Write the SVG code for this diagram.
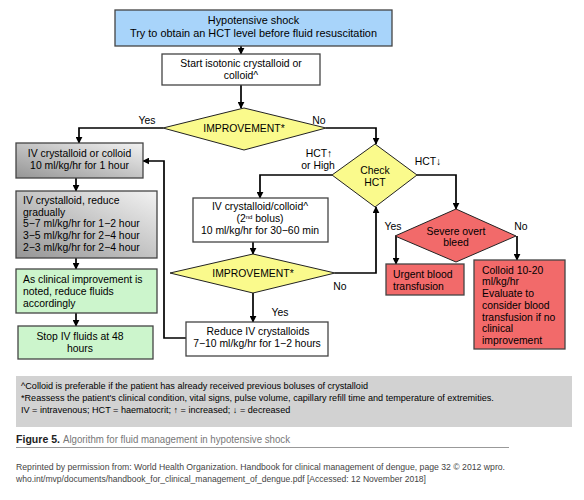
<svg xmlns="http://www.w3.org/2000/svg" width="584" height="500" viewBox="0 0 584 500">
<defs>
<linearGradient id="gray" x1="1" y1="0" x2="0" y2="1">
<stop offset="0" stop-color="#f2f2f2"/>
<stop offset="1" stop-color="#959595"/>
</linearGradient>
<marker id="ah" viewBox="0 0 10 10" refX="9" refY="5" markerWidth="7" markerHeight="7" markerUnits="userSpaceOnUse" orient="auto">
<path d="M0,0 L10,5 L0,10 z" fill="#000"/>
</marker>
</defs>
<style>
text{font-family:"Liberation Sans",Arial,sans-serif;font-size:10.4px;fill:#000}
.c{text-anchor:middle}
.box{stroke:#444;stroke-width:1.3}
.dia{stroke:#222;stroke-width:1}
.y{fill:#fafa8c}
.r{fill:#f26a6a}
.g{fill:#ccf5cc}
.w{fill:#fff}
.ln{fill:none;stroke:#000;stroke-width:1.7}
.fn{font-size:9.1px}
.cap{font-size:11.5px;fill:#777}
.capb{font-size:11.5px;fill:#222;font-weight:bold}
.ref{font-size:9px;fill:#444}
</style>
<rect width="584" height="500" fill="#fff"/>

<g id="connectors">
<path class="ln" d="M241,46 V54" marker-end="url(#ah)"/>
<path class="ln" d="M241,85 V108" marker-end="url(#ah)"/>
<path class="ln" d="M163,128 H79 V143" marker-end="url(#ah)"/>
<path class="ln" d="M326,128 H376 V144" marker-end="url(#ah)"/>
<path class="ln" d="M76,178 V191" marker-end="url(#ah)"/>
<path class="ln" d="M76,258 V269" marker-end="url(#ah)"/>
<path class="ln" d="M76,313 V326" marker-end="url(#ah)"/>
<path class="ln" d="M332,175 H260 V198" marker-end="url(#ah)"/>
<path class="ln" d="M417,175 H456 V209" marker-end="url(#ah)"/>
<path class="ln" d="M253,242 V254" marker-end="url(#ah)"/>
<path class="ln" d="M253,293 V322" marker-end="url(#ah)"/>
<path class="ln" d="M335,273 H376 V207" marker-end="url(#ah)"/>
<path class="ln" d="M186,338 H164 V161 H143" marker-end="url(#ah)"/>
<path class="ln" d="M396,236 V264" marker-end="url(#ah)"/>
<path class="ln" d="M517,236 V260" marker-end="url(#ah)"/>
</g>

<g id="labels">
<text x="147" y="124" class="c">Yes</text>
<text x="319" y="124" class="c">No</text>
<text x="319" y="157" class="c">HCT↑</text>
<text x="318" y="169" class="c">or High</text>
<text x="428" y="165" class="c">HCT↓</text>
<text x="280" y="316" class="c">Yes</text>
<text x="340" y="290" class="c">No</text>
<text x="393" y="230" class="c">Yes</text>
<text x="521" y="230" class="c">No</text>
</g>

<g id="n-shock">
<rect x="115" y="10" width="277" height="36" fill="#a8d4fa" class="box"/>
<text x="253.5" y="24" class="c" style="font-size:10.9px">Hypotensive shock</text>
<text x="253.5" y="37" class="c" style="font-size:10.9px">Try to obtain an HCT level before fluid resuscitation</text>
</g>

<g id="n-start">
<rect x="162" y="54" width="158" height="31" class="box w"/>
<text x="241" y="67" class="c">Start isotonic crystalloid or</text>
<text x="241" y="79" class="c">colloid^</text>
</g>

<g id="n-improve1">
<polygon points="244,108 326,128 244,150 163,128" class="dia y"/>
<text x="244" y="132" class="c">IMPROVEMENT*</text>
</g>

<g id="n-iv1">
<rect x="16" y="143" width="127" height="35" fill="url(#gray)" class="box"/>
<text x="79.5" y="157" class="c">IV crystalloid or colloid</text>
<text x="79.5" y="169" class="c">10 ml/kg/hr for 1 hour</text>
</g>

<g id="n-iv2">
<rect x="16" y="191" width="141" height="67" fill="url(#gray)" class="box"/>
<text x="23" y="204">IV crystalloid, reduce</text>
<text x="23" y="216">gradually</text>
<text x="23" y="227">5−7 ml/kg/hr for 1−2 hour</text>
<text x="23" y="239">3−5 ml/kg/hr for 2−4 hour</text>
<text x="23" y="251">2−3 ml/kg/hr for 2−4 hour</text>
</g>

<g id="n-clinical">
<rect x="16" y="269" width="141" height="44" class="box g"/>
<text x="23" y="283">As clinical improvement is</text>
<text x="23" y="295">noted, reduce fluids</text>
<text x="23" y="307">accordingly</text>
</g>

<g id="n-stop">
<rect x="18" y="326" width="135" height="33" class="box g"/>
<text x="80" y="340" class="c">Stop IV fluids at 48</text>
<text x="80" y="352" class="c">hours</text>
</g>

<g id="n-checkhct">
<polygon points="375,144 417,175 375,207 332,175" class="dia y"/>
<text x="375" y="174" class="c">Check</text>
<text x="375" y="186" class="c">HCT</text>
</g>

<g id="n-bolus2">
<rect x="193" y="198" width="135" height="44" class="box w"/>
<text x="260" y="210" class="c">IV crystalloid/colloid^</text>
<text x="260" y="222" class="c">(2<tspan dy="-3" style="font-size:6px">nd</tspan><tspan dy="3"> bolus)</tspan></text>
<text x="260" y="234" class="c">10 ml/kg/hr for 30−60 min</text>
</g>

<g id="n-improve2">
<polygon points="253,254 335,273 253,293 170,273" class="dia y"/>
<text x="253" y="277" class="c">IMPROVEMENT*</text>
</g>

<g id="n-reduce">
<rect x="186" y="322" width="142" height="34" class="box w"/>
<text x="258" y="335" class="c">Reduce IV crystalloids</text>
<text x="257" y="347" class="c">7−10 ml/kg/hr for 1−2 hours</text>
</g>

<g id="n-bleed">
<polygon points="456,209 516,236 456,262 395,236" class="dia r"/>
<text x="456" y="235" class="c">Severe overt</text>
<text x="456" y="246" class="c">bleed</text>
</g>

<g id="n-urgent">
<rect x="386" y="264" width="78" height="31" class="box r"/>
<text x="393" y="278">Urgent blood</text>
<text x="393" y="290">transfusion</text>
</g>

<g id="n-colloid">
<rect x="474" y="260" width="91" height="89" class="box r"/>
<text x="482" y="274">Colloid 10-20</text>
<text x="482" y="285">ml/kg/hr</text>
<text x="482" y="297">Evaluate to</text>
<text x="482" y="309">consider blood</text>
<text x="482" y="321">transfusion if no</text>
<text x="482" y="332">clinical</text>
<text x="482" y="344">improvement</text>
</g>

<g id="footnote">
<rect x="16" y="376" width="556" height="51" fill="#d2d2d2"/>
<text x="21" y="389" class="fn">^Colloid is preferable if the patient has already received previous boluses of crystalloid</text>
<text x="21" y="401" class="fn">*Reassess the patient's clinical condition, vital signs, pulse volume, capillary refill time and temperature of extremities.</text>
<text x="21" y="413" class="fn">IV = intravenous; HCT = haematocrit; ↑ = increased; ↓ = decreased</text>
</g>

<g id="caption">
<text x="16" y="443" class="capb" textLength="44" lengthAdjust="spacingAndGlyphs">Figure 5.</text>
<text x="63" y="443" class="cap" textLength="227" lengthAdjust="spacingAndGlyphs">Algorithm for fluid management in hypotensive shock</text>
<line x1="16" y1="447.5" x2="509" y2="447.5" stroke="#999" stroke-width="1"/>
<text x="16" y="470" class="ref" textLength="489" lengthAdjust="spacingAndGlyphs">Reprinted by permission from: World Health Organization. Handbook for clinical management of dengue, page 32 ©  2012  wpro.</text>
<text x="16" y="482" class="ref" textLength="410" lengthAdjust="spacingAndGlyphs">who.int/mvp/documents/handbook_for_clinical_management_of_dengue.pdf [Accessed: 12 November 2018]</text>
</g>
</svg>
